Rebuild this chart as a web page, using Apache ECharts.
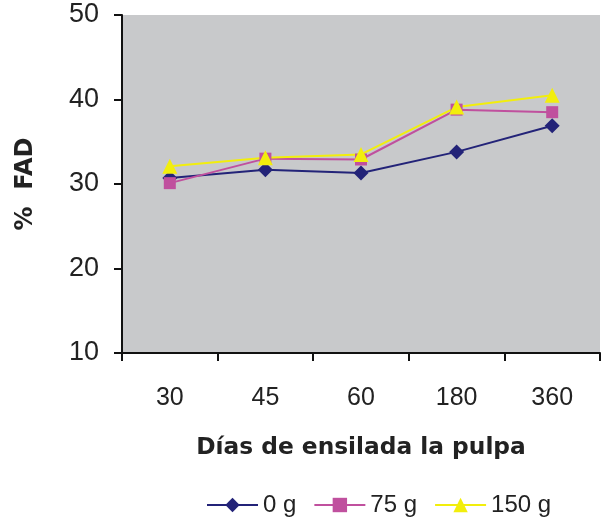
<!DOCTYPE html>
<html><head><meta charset="utf-8">
<script src="https://cdn.jsdelivr.net/npm/echarts@6/dist/echarts.min.js"></script>
<style>html,body{margin:0;padding:0;background:#fff}#c{width:601px;height:518px}</style>
</head><body><div id="c"></div>
<script>
const categories = ['30','45','60','180','360'];
const s0 = [30.7, 31.7, 31.3, 33.8, 36.9];
const s75 = [30.1, 33.0, 32.9, 38.8, 38.5];
const s150 = [32.1, 33.1, 33.5, 39.1, 40.5];
const names = ['0 g','75 g','150 g'];
const font = 'Liberation Sans, Arial, sans-serif';
const bfont = 'DejaVu Sans, sans-serif';
const chart = echarts.init(document.getElementById('c'));
function ser(name, data, color, symbol, size){
  return {name, type:'line', data, symbol, symbolSize:size, color,
    lineStyle:{color, width:2}, itemStyle:{color}, z: 2};
}
chart.setOption({
  animation:false,
  grid:{left:122, top:15, right:1, bottom:165, show:true, backgroundColor:'#c8c9cb', borderWidth:0},
  xAxis:{type:'category', data:categories, boundaryGap:true,
    axisLine:{lineStyle:{color:'#111', width:2}},
    axisTick:{show:true, inside:false, length:8, lineStyle:{color:'#111', width:2}},
    axisLabel:{fontFamily:font, fontSize:25, color:'#222', margin:33},
    name:'Días de ensilada la pulpa', nameLocation:'middle', nameGap:83,
    nameTextStyle:{fontFamily:bfont, fontSize:23.3, fontWeight:'bold', color:'#222'}},
  yAxis:{type:'value', min:10, max:50, interval:10,
    axisLine:{show:true, lineStyle:{color:'#111', width:2}},
    axisTick:{show:true, inside:false, length:8, lineStyle:{color:'#111', width:2}},
    splitLine:{show:false},
    axisLabel:{fontFamily:font, fontSize:27, color:'#222', margin:23},
    name:'%  FAD', nameLocation:'middle', nameGap:84, nameRotate:90,
    nameTextStyle:{fontFamily:bfont, fontSize:24, fontWeight:'bold', color:'#222'}},
  legend:{top:488, left:201, itemWidth:51, itemHeight:18, itemGap:17,
    textStyle:{fontFamily:font, fontSize:24, color:'#222'}, data:names},
  series:[
    ser(names[0], s0, '#232378', 'diamond', 15),
    ser(names[1], s75, '#c0509e', 'rect', 12),
    ser(names[2], s150, '#f2ee0c', 'triangle', 15)
  ]
});
</script></body></html>
